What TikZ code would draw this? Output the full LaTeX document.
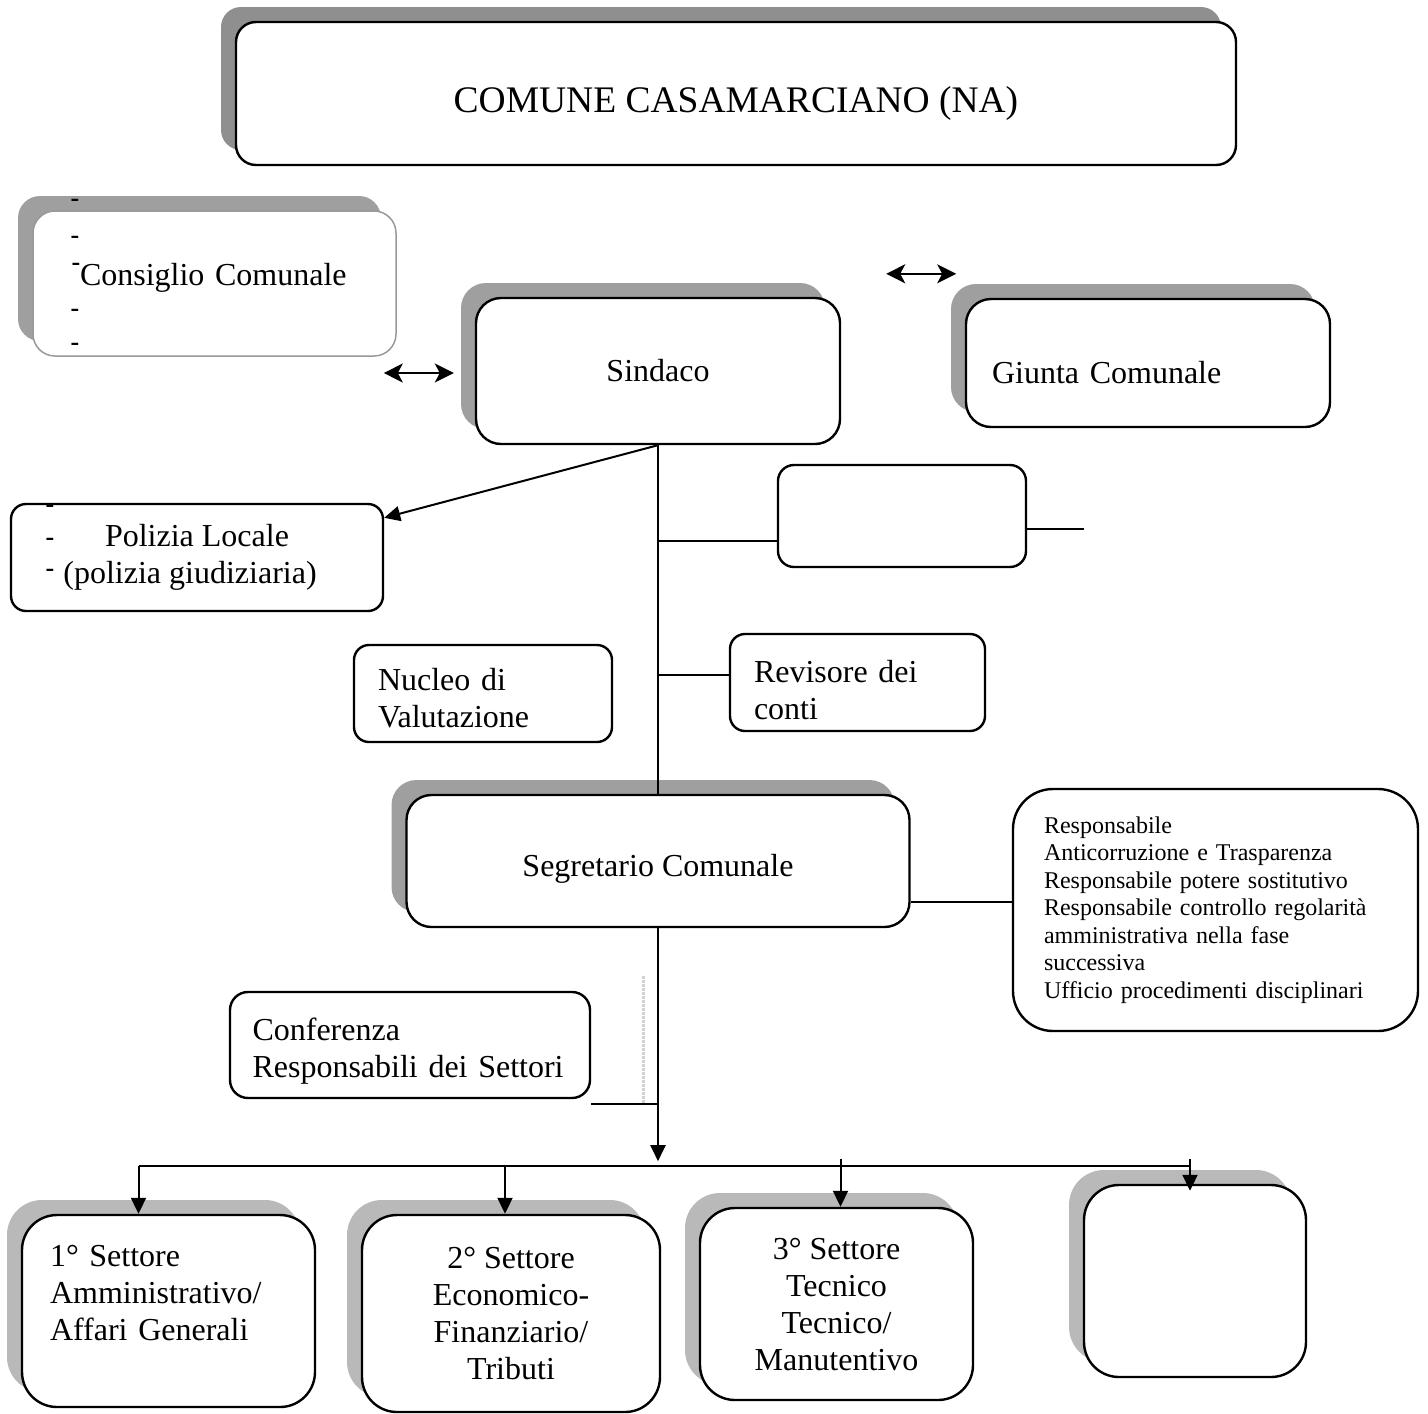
\documentclass[tikz,border=0pt]{standalone}
\usepackage{fontspec}
\setmainfont{Liberation Serif}
\usetikzlibrary{arrows.meta, shadows, calc}
\tikzstyle{block} = [draw, rectangle, line width=2.4pt, fill=white, inner sep=0pt, font=\fontsize{32}{37}\selectfont]
\tikzstyle{shade} = [drop shadow={shadow xshift=-15pt, shadow yshift=15pt, fill=gray!75, opacity=1}]
\tikzstyle{shade dark} = [drop shadow={shadow xshift=-15pt, shadow yshift=15pt, fill=gray!88, opacity=1}]
\tikzstyle{shade light} = [drop shadow={shadow xshift=-15pt, shadow yshift=15pt, fill=gray!55, opacity=1}]
\tikzstyle{hyphen} = [inner sep=0pt, font=\fontsize{26}{26}\selectfont\bfseries]
\tikzstyle{link} = [line width=2pt]
\tikzstyle{arrow} = [-{Triangle[length=16pt, width=15pt]}, line width=2pt]
\tikzstyle{twoway} = [{Stealth[length=19pt, width=19pt, inset=5pt]}-{Stealth[length=19pt, width=19pt, inset=5pt]}, line width=2pt]

\begin{document}
\begin{tikzpicture}[x=1pt, y=-1pt]
    \useasboundingbox (0,0) rectangle (1428,1414);

    \node (title) [block, shade dark, minimum width=1000pt, minimum height=143pt, rounded corners=20pt, font=\fontsize{37.5}{44}\selectfont] at (736,93.5) {\rule{0pt}{46pt}COMUNE CASAMARCIANO (NA)};
    \node (consiglio) [block, shade, draw=gray!80, line width=1.5pt, minimum width=363pt, minimum height=145pt, rounded corners=22pt, text width=269pt, align=left] at (214.5,283.5) {\rule[-19pt]{0pt}{19pt}Consiglio Comunale};
    \node (sindaco) [block, shade, minimum width=364pt, minimum height=146pt, rounded corners=25pt] at (658,371) {Sindaco};
    \node (giunta) [block, shade, minimum width=364pt, minimum height=128pt, rounded corners=25pt, text width=312pt, align=left] at (1148,363) {\rule{0pt}{42pt}Giunta Comunale};
    \node (polizia) [block, minimum width=372pt, minimum height=107pt, rounded corners=15pt, align=center] at (197,557.5) {Polizia Locale\\(polizia giudiziaria)\hspace*{14pt}};
    \node (vuoto) [block, minimum width=248pt, minimum height=102pt, rounded corners=16pt] at (902,516) {};
    \node (nucleo) [block, minimum width=258pt, minimum height=97pt, rounded corners=15pt, text width=210pt, align=left] at (483,693.5) {\rule{0pt}{32pt}Nucleo di\\Valutazione};
    \node (revisore) [block, minimum width=255pt, minimum height=97pt, rounded corners=15pt, text width=207pt, align=left] at (857.5,682.5) {\rule{0pt}{38pt}Revisore dei\\conti};
    \node (segretario) [block, shade, minimum width=503pt, minimum height=132pt, rounded corners=25pt] at (658,861) {\rule{0pt}{38pt}Segretario Comunale};
    \node (responsabile) [block, minimum width=405pt, minimum height=242pt, rounded corners=40pt, text width=343pt, align=left, font=\fontsize{24}{27.5}\selectfont] at (1215.5,910) {Responsabile\\Anticorruzione e Trasparenza\\Responsabile potere sostitutivo\\Responsabile controllo regolarità\\amministrativa nella fase\\successiva\\Ufficio procedimenti disciplinari};
    \node (conferenza) [block, minimum width=360pt, minimum height=106pt, rounded corners=18pt, text width=315pt, align=left] at (410,1045) {\rule{0pt}{34pt}Conferenza\\Responsabili dei Settori};
    \node (settore1) [block, shade light, minimum width=293pt, minimum height=192pt, rounded corners=35pt, text width=237pt, align=left] at (168.5,1311) {1° Settore\\Amministrativo/\\Affari Generali\\\mbox{}};
    \node (settore2) [block, shade light, minimum width=298pt, minimum height=197pt, rounded corners=35pt, align=center] at (511,1313.5) {2° Settore\\Economico-\\Finanziario/\\Tributi};
    \node (settore3) [block, shade light, minimum width=273pt, minimum height=192pt, rounded corners=35pt, align=center] at (836.5,1304) {3° Settore\\Tecnico\\Tecnico/\\Manutentivo};
    \node (settore4) [block, shade light, minimum width=222pt, minimum height=192pt, rounded corners=35pt] at (1195,1281) {};

    % Stray list marks.
    \foreach \y in {203,240,313,347}
        \node [hyphen] at (75,\y) {-};
    \node [hyphen] at (76,267) {-};
    \foreach \y in {509,542,573}
        \node [hyphen] at (50,\y) {-};

    % Helper points.
    \coordinate (cs l) at ([xshift=-91pt, yshift=-2pt]sindaco.west);
    \coordinate (cs r) at ([xshift=-21pt, yshift=-2pt]sindaco.west);
    \coordinate (sg l) at ([xshift=45pt, yshift=23pt]sindaco.north east);
    \coordinate (sg r) at ([xshift=115pt, yshift=23pt]sindaco.north east);
    \coordinate (vuoto in) at ([yshift=-25pt]vuoto.west);
    \coordinate (vuoto out) at ([xshift=57pt, yshift=-13pt]vuoto.east);
    \coordinate (rev in) at ([yshift=8pt]revisore.west);
    \coordinate (resp in) at ([yshift=8pt]responsabile.west);
    \coordinate (conf out) at ([yshift=-5pt]conferenza.south east);
    \coordinate (hub) at ([yshift=-238pt]segretario.south);
    \coordinate (in1) at ([xshift=-30pt]settore1.north);
    \coordinate (in2) at ([xshift=-6pt]settore2.north);
    \coordinate (in3) at ([xshift=4pt]settore3.north);
    \coordinate (in4) at ([xshift=-5pt, yshift=-7pt]settore4.north);

    % Arrows.
    \draw [twoway] (cs l) -- (cs r);
    \draw [twoway] (sg l) -- (sg r);
    \draw [arrow] (sindaco.south) -- ([yshift=-15pt]polizia.north east);
    \draw [link] (sindaco.south) -- (sindaco.south |- segretario.north);
    \draw [link] (sindaco.south |- vuoto in) -- (vuoto in);
    \draw [link] ([yshift=-13pt]vuoto.east) -- (vuoto out);
    \draw [link] (sindaco.south |- rev in) -- (rev in);
    \draw [link] (segretario.east |- resp in) -- (resp in);
    \draw [gray!35, line width=3pt, densely dotted] ([xshift=-15pt, yshift=-48pt]segretario.south) -- ([xshift=-15pt]segretario.south |- conf out);
    \draw [link] (conf out) -- (segretario.south |- conf out);
    \draw [arrow] (segretario.south) -- ([yshift=5pt]hub);
    \draw [link] (hub -| in1) -- (hub -| in4);
    \draw [arrow] (hub -| in1) -- (in1);
    \draw [arrow] (hub -| in2) -- (in2);
    \draw [arrow] ($(hub -| in3)+(0,-7)$) -- (in3);
    \draw [arrow] ($(hub -| in4)+(0,-7)$) -- (in4);
\end{tikzpicture}
\end{document}
